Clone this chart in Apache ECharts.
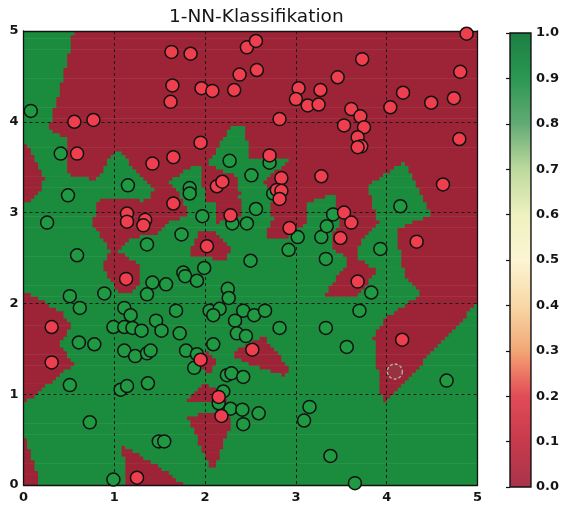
<!DOCTYPE html>
<html><head><meta charset="utf-8">
<script src="https://cdn.jsdelivr.net/npm/echarts@6/dist/echarts.min.js"></script>
<style>html,body{margin:0;padding:0;background:#fff}#c{width:562px;height:506px}</style>
</head><body><div id="c"></div>
<script>
// ---- data ----
const redPoints = [
 [0.56,4.00],[0.77,4.02],[0.59,3.65],[1.14,2.99],[1.14,2.90],[1.34,2.92],[1.32,2.86],[1.42,3.54],
 [1.65,3.61],[1.65,3.10],[1.95,3.77],[1.63,4.77],[1.84,4.75],[1.64,4.40],[1.62,4.22],[1.96,4.37],
 [2.08,4.34],[2.32,4.35],[2.38,4.52],[2.46,4.82],[2.56,4.89],[2.57,4.57],[2.13,3.29],[2.19,3.34],
 [2.28,2.97],[2.02,2.63],[3.73,4.69],[3.46,4.49],[3.03,4.37],[3.27,4.35],[3.00,4.25],[3.13,4.18],
 [3.25,4.19],[2.82,4.03],[3.61,4.14],[3.71,4.06],[3.75,3.94],[3.53,3.96],[3.68,3.83],[3.72,3.73],
 [3.68,3.72],[4.04,4.16],[4.18,4.32],[4.49,4.21],[4.74,4.26],[4.81,4.55],[4.88,4.97],[4.80,3.81],
 [4.62,3.31],[2.71,3.63],[2.84,3.38],[2.79,3.25],[2.84,3.24],[2.82,3.15],[3.28,3.40],[2.93,2.83],
 [3.53,3.00],[3.61,2.89],[3.49,2.72],[4.33,2.68],[1.13,2.27],[0.31,1.74],[0.31,1.35],[2.52,1.49],
 [1.95,1.38],[2.15,0.97],[2.18,0.76],[1.25,0.08],[3.68,2.24],[4.17,1.60]
];
const greenPoints = [
 [0.08,4.12],[0.41,3.65],[0.49,3.19],[0.26,2.89],[0.59,2.53],[1.15,3.30],[1.36,2.65],[1.74,2.76],
 [1.83,3.27],[1.83,3.21],[2.27,3.57],[2.51,3.41],[1.97,2.96],[2.30,2.88],[2.46,2.88],[2.56,3.04],
 [2.50,2.47],[2.71,3.55],[2.75,3.21],[3.02,2.73],[2.92,2.59],[3.28,2.73],[3.34,2.85],[3.41,2.98],
 [3.93,2.60],[4.15,3.07],[3.33,2.49],[0.51,2.08],[0.62,1.95],[0.89,2.11],[1.42,2.23],[1.57,2.21],
 [1.36,2.10],[1.76,2.34],[1.78,2.30],[1.91,2.25],[1.99,2.39],[2.25,2.16],[2.26,2.06],[1.11,1.95],
 [1.18,1.87],[1.68,1.92],[1.46,1.81],[1.52,1.70],[0.99,1.74],[1.11,1.74],[1.20,1.73],[1.30,1.70],
 [1.72,1.67],[2.05,1.92],[2.16,1.94],[2.09,1.87],[2.33,1.81],[2.42,1.92],[2.54,1.87],[2.35,1.67],
 [2.45,1.64],[2.09,1.55],[1.79,1.48],[1.91,1.44],[1.88,1.29],[1.11,1.48],[1.23,1.42],[1.36,1.45],
 [1.40,1.48],[0.61,1.57],[0.78,1.55],[0.51,1.10],[1.07,1.05],[1.14,1.09],[1.37,1.12],[2.24,1.21],
 [2.29,1.23],[2.42,1.19],[2.20,1.03],[2.15,0.90],[2.28,0.84],[2.41,0.83],[2.42,0.67],[2.59,0.79],
 [0.73,0.69],[1.49,0.48],[1.55,0.48],[0.99,0.06],[3.83,2.12],[3.70,1.92],[2.66,1.92],[2.82,1.73],
 [3.33,1.73],[3.56,1.52],[4.66,1.15],[3.15,0.86],[3.09,0.71],[3.38,0.32],[3.65,0.02]
];
// red training points lying just outside the visible window (inferred from the regions at the left edge)
const offscreenRed = [[-0.1,3.4],[-0.64,0.23]];
// faint ring drawn on the picture
const ringPoints = [[4.09,1.25]];
const axisTicks = [0,1,2,3,4,5];
const colorbarTicks = [0,0.1,0.2,0.3,0.4,0.5,0.6,0.7,0.8,0.9,1.0];
const colorStops = [
 [0.0,'#a8344a'],[0.1,'#c73a4c'],[0.2,'#e14b56'],[0.25,'#ec7664'],[0.3,'#f3a676'],[0.4,'#f8d8a6'],
 [0.5,'#fdf5d3'],[0.6,'#eef1c0'],[0.7,'#bcd99c'],[0.8,'#62aa74'],[0.9,'#2b9752'],[1.0,'#1c7e42']
];
const STEP = 0.04;
const RED_BG = '#9c2436', GREEN_BG = '#1b8c3d';
const RED_PT = '#ef3f4e', GREEN_PT = '#1f9a42';

// ---- 1-NN decision regions from the labelled points ----
const labelled = redPoints.concat(offscreenRed).map(p => [p[0], p[1], 0])
  .concat(greenPoints.map(p => [p[0], p[1], 1]));
function classify(x, y) {
  let best = Infinity, c = 0;
  for (const p of labelled) {
    const d = (p[0]-x)*(p[0]-x) + (p[1]-y)*(p[1]-y);
    if (d < best) { best = d; c = p[2]; }
  }
  return c;
}
const n = Math.round(5 / STEP);
const runs = [];
for (let j = 0; j < n; j++) {
  const y0 = j*STEP, y1 = (j+1)*STEP, yc = y0 + STEP/2;
  let start = 0, cur = classify(STEP/2, yc);
  for (let i = 1; i <= n; i++) {
    const c = i < n ? classify((i+0.5)*STEP, yc) : -1;
    if (c !== cur) { runs.push([start*STEP, i*STEP, y0, y1, cur]); start = i; cur = c; }
  }
}

const font = 'DejaVu Sans';
const dotted = { show: true, lineStyle: { color: '#1a1a1a', type: [3,3], width: 1 } };
const lbl = { fontFamily: font, fontSize: 13, fontWeight: 'bold', color: '#151515' };

const chart = echarts.init(document.getElementById('c'));
chart.setOption({
  animation: false,
  backgroundColor: '#fff',
  title: { text: '1-NN-Klassifikation', left: 164, top: 3,
    textStyle: { fontFamily: font, fontSize: 18.5, fontWeight: 'normal', color: '#151515' } },
  grid: [
    { left: 23.5, top: 31, width: 454, height: 454, show: false },
    { left: 510, top: 33, width: 23, height: 454, show: false }
  ],
  xAxis: [
    { gridIndex: 0, type: 'value', min: 0, max: 5, interval: 1, position: 'bottom', z: 3,
      axisLine: { show: true, onZero: false, lineStyle: { color: '#111', width: 1.3 } },
      axisTick: { show: false }, axisLabel: Object.assign({ margin: 6 }, lbl), splitLine: dotted },
    { gridIndex: 0, type: 'value', min: 0, max: 5, position: 'top', z: 3,
      axisLine: { show: true, onZero: false, lineStyle: { color: '#111', width: 1.3 } },
      axisTick: { show: false }, axisLabel: { show: false }, splitLine: { show: false } },
    { gridIndex: 1, type: 'value', min: 0, max: 1, show: false }
  ],
  yAxis: [
    { gridIndex: 0, type: 'value', min: 0, max: 5, interval: 1, position: 'left', z: 3,
      axisLine: { show: true, onZero: false, lineStyle: { color: '#111', width: 1.3 } },
      axisTick: { show: false }, axisLabel: Object.assign({ margin: 5 }, lbl), splitLine: dotted },
    { gridIndex: 0, type: 'value', min: 0, max: 5, position: 'right', z: 3,
      axisLine: { show: true, onZero: false, lineStyle: { color: '#111', width: 1.3 } },
      axisTick: { show: false }, axisLabel: { show: false }, splitLine: { show: false } },
    { gridIndex: 1, type: 'value', min: 0, max: 1, interval: 0.1, position: 'right', z: 3,
      axisLine: { show: false },
      axisTick: { show: true, inside: true, length: 4, lineStyle: { color: '#111', width: 1.2 } },
      axisLabel: Object.assign({ margin: 5, formatter: v => v.toFixed(1) }, lbl),
      splitLine: { show: false } }
  ],
  series: [
    { type: 'custom', xAxisIndex: 0, yAxisIndex: 0, z: 1, clip: true, silent: true,
      data: runs, encode: { x: [0,1], y: [2,3] },
      renderItem: (params, api) => {
        const p0 = api.coord([api.value(0), api.value(3)]);
        const p1 = api.coord([api.value(1), api.value(2)]);
        return { type: 'rect',
          shape: { x: p0[0], y: p0[1], width: p1[0]-p0[0]+0.6, height: p1[1]-p0[1]+0.6 },
          style: { fill: api.value(4) ? GREEN_BG : RED_BG } };
      } },
    { type: 'scatter', xAxisIndex: 0, yAxisIndex: 0, z: 5, data: greenPoints, symbol: 'circle',
      symbolSize: 13, itemStyle: { color: GREEN_PT, borderColor: '#111', borderWidth: 1.5, opacity: 1 } },
    { type: 'scatter', xAxisIndex: 0, yAxisIndex: 0, z: 6, data: redPoints, symbol: 'circle',
      symbolSize: 13, itemStyle: { color: RED_PT, borderColor: '#111', borderWidth: 1.5, opacity: 1 } },
    { type: 'scatter', xAxisIndex: 0, yAxisIndex: 0, z: 7, data: ringPoints, symbol: 'circle',
      symbolSize: 15, itemStyle: { color: 'rgba(150,60,70,0.6)', borderColor: '#b8b0b0',
        borderWidth: 1.3, borderType: [3,2], opacity: 1 } },
    { type: 'custom', xAxisIndex: 2, yAxisIndex: 2, z: 1, silent: true,
      data: [[0, 0, 1, 1]], encode: { x: [0,2], y: [1,3] },
      renderItem: (params, api) => {
        const p0 = api.coord([0, 1]);
        const p1 = api.coord([1, 0]);
        return { type: 'rect',
          shape: { x: p0[0], y: p0[1], width: p1[0]-p0[0], height: p1[1]-p0[1] },
          style: { fill: new echarts.graphic.LinearGradient(0, 1, 0, 0,
              colorStops.map(s => ({ offset: s[0], color: s[1] }))),
            stroke: '#111', lineWidth: 1.4 } };
      } }
  ]
});
</script></body></html>
